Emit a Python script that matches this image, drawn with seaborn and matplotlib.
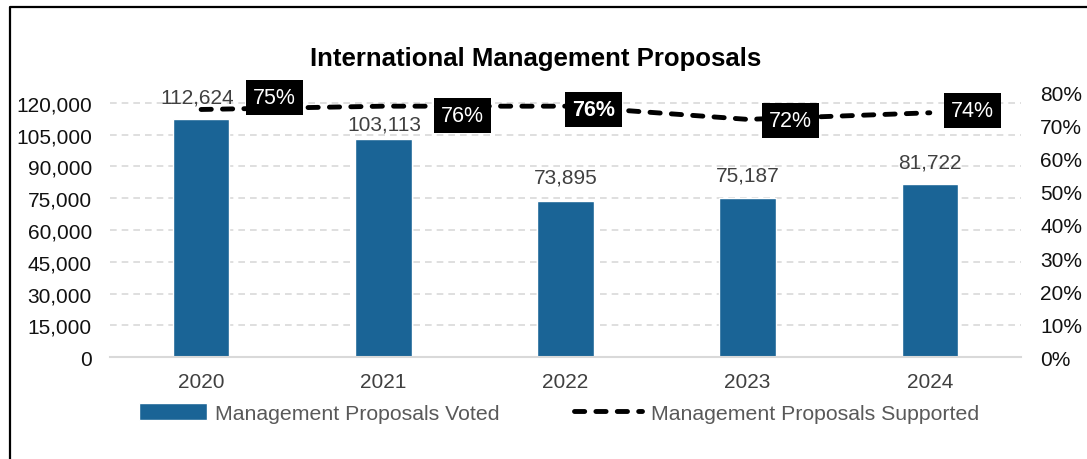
import matplotlib
matplotlib.use("Agg")
import matplotlib.pyplot as plt
from matplotlib.lines import Line2D
from matplotlib.ticker import MultipleLocator, PercentFormatter, FuncFormatter
import numpy as np
import pandas as pd
import seaborn as sns

years = ["2020", "2021", "2022", "2023", "2024"]
proposals_voted = [112624, 103113, 73895, 75187, 81722]
pct_supported = [75, 76, 76, 72, 74]

BAR = "#1a6496"
GRID = "#d9d9d9"
LABEL_GRAY = "#404040"

sns.set_theme(style="white")
plt.rcParams["font.family"] = ["Liberation Sans", "DejaVu Sans"]

fig = plt.figure(figsize=(10.87, 4.6), dpi=100)
ax = fig.add_axes([0.1012, 0.2217, 0.838, 0.574])

df = pd.DataFrame({"year": years, "voted": proposals_voted})
sns.barplot(data=df, x="year", y="voted", color=BAR, saturation=1, width=0.31,
            ax=ax, label="Management Proposals Voted")

ax.set_xlim(-0.5, 4.5)
ax.set_ylim(0, 120000 * 264 / 254)
ax.yaxis.set_major_locator(MultipleLocator(15000))
ax.yaxis.set_major_formatter(FuncFormatter(lambda v, p: f"{int(v):,}"))
ax.set_xlabel("")
ax.set_ylabel("")
ax.yaxis.grid(True, linestyle=(0, (4, 3)), color=GRID, linewidth=1.2)
ax.set_axisbelow(True)
for s in ["top", "right", "left"]:
    ax.spines[s].set_visible(False)
ax.spines["bottom"].set_color(GRID)
ax.spines["bottom"].set_linewidth(1.5)
ax.tick_params(axis="y", length=0, pad=13, labelsize=15, labelcolor="#111111")
ax.tick_params(axis="x", length=0, pad=11, labelsize=15, labelcolor=LABEL_GRAY)

# value labels above bars
bar_dy = [22, 15, 24, 23, 22]
bar_dx = [-4, 1, 0, 0, 0]
for i, v in enumerate(proposals_voted):
    ax.annotate(f"{v:,}", xy=(i, v), xytext=(bar_dx[i], bar_dy[i]),
                textcoords="offset pixels", ha="center", va="center",
                fontsize=15, color=LABEL_GRAY)

# supported share on the secondary axis
ax2 = ax.twinx()
sns.lineplot(x=np.arange(len(years)), y=np.array(pct_supported) / 100, ax=ax2,
             color="black", linewidth=3.5, label="Management Proposals Supported")
line = ax2.lines[0]
line.set_dashes([2.1, 2.3])
line.set_dash_capstyle("round")
ax2.set_ylim(0, 0.8)
ax2.yaxis.set_major_locator(MultipleLocator(0.1))
ax2.yaxis.set_major_formatter(PercentFormatter(1.0, decimals=0))
ax2.set_ylabel("")
for s in ax2.spines.values():
    s.set_visible(False)
ax2.tick_params(axis="y", length=0, pad=14, labelsize=15, labelcolor="#111111")

pct_dx = [73, 79, 28, 43, 43]
pct_dy = [12, -9, -3, -1, 2]
for i, v in enumerate(pct_supported):
    ax2.annotate(f"{v}%", xy=(i, v / 100), xytext=(pct_dx[i], pct_dy[i]),
                 textcoords="offset pixels", ha="center", va="center",
                 fontsize=15.5, color="white",
                 fontweight="bold" if i == 2 else "normal",
                 bbox=dict(boxstyle="square,pad=0.33", fc="black", ec="none"))

# combined legend below the axes
h1, l1 = ax.get_legend_handles_labels()
h2, l2 = ax2.get_legend_handles_labels()
for a in (ax, ax2):
    if a.get_legend() is not None:
        a.get_legend().remove()
fig.legend(h1 + h2, l1 + l2, loc="center", bbox_to_anchor=(0.514, 1 - 414 / 460),
           ncol=2, frameon=False, fontsize=15.3, labelcolor="#595959",
           handlelength=3.2, handleheight=0.8, handletextpad=0.4, columnspacing=3.5)

fig.text(536 / 1087, 1 - 59 / 460, "International Management Proposals",
         ha="center", va="center", fontsize=18.5, fontweight="bold", color="black")

# frame around the chart
fig.add_artist(Line2D([10 / 1087, 10 / 1087, 1], [0, 1 - 8 / 460, 1 - 8 / 460],
                      transform=fig.transFigure, color="black", linewidth=1.6))

fig.savefig("out.png", dpi=100)
